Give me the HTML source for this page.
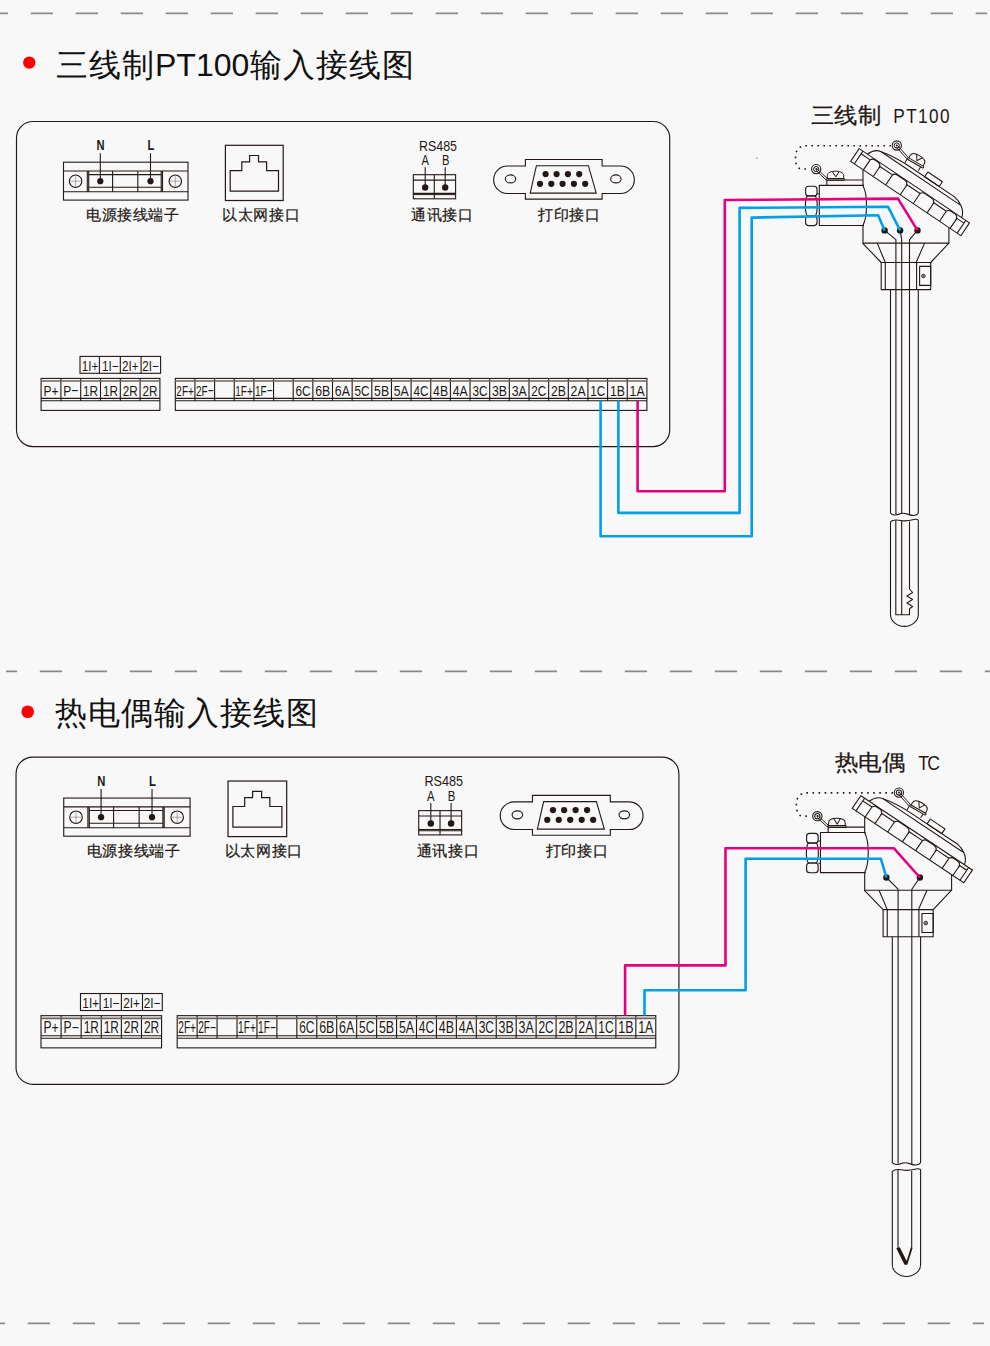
<!DOCTYPE html>
<html><head><meta charset="utf-8"><style>
html,body{margin:0;padding:0;background:#f8f8f8;}
svg{display:block;}
text{font-family:'Liberation Sans', sans-serif;}
</style></head><body>
<svg width="990" height="1346" viewBox="0 0 990 1346" font-family="'Liberation Sans', sans-serif"><rect width="990" height="1346" fill="#f8f8f8"/><line x1="-14.3" y1="13.3" x2="987" y2="13.3" stroke="#8a8a8a" stroke-width="1.7" stroke-dasharray="22.3 22.7"/><svg x="6" y="0" width="984" height="1346" overflow="hidden"><line x1="-11.2" y1="671.3" x2="990" y2="671.3" stroke="#8a8a8a" stroke-width="1.7" stroke-dasharray="22.3 22.7"/></svg><line x1="-17.3" y1="1323.3" x2="984" y2="1323.3" stroke="#8a8a8a" stroke-width="1.7" stroke-dasharray="22.3 22.7"/><circle cx="756.8" cy="158.2" r="0.8" fill="#8a8a8a"/><circle cx="29.3" cy="62.6" r="6.2" fill="#ff0000"/><text y="76" font-size="32" fill="#111"><tspan x="56" letter-spacing="1">三线制</tspan><tspan x="155">PT100</tspan><tspan x="250" letter-spacing="1">输入接线图</tspan></text><circle cx="27.7" cy="711.7" r="6.3" fill="#ff0000"/><text x="54.5" y="724" font-size="32" fill="#111" letter-spacing="1">热电偶输入接线图</text><text x="811" y="122.5" font-size="22" fill="#231815" stroke="#231815" stroke-width="0.25" textLength="70" lengthAdjust="spacingAndGlyphs">三线制</text><g transform="translate(893.3 0) scale(0.86 1)"><text x="0" y="123.3" font-size="20" fill="#231815" textLength="65.5" lengthAdjust="spacing">PT100</text></g><text x="834.5" y="769.5" font-size="22" fill="#231815" stroke="#231815" stroke-width="0.25" textLength="70.5" lengthAdjust="spacingAndGlyphs">热电偶</text><g transform="translate(918.3 0) scale(0.86 1)"><text x="0" y="770.3" font-size="20.5" fill="#231815" textLength="25.3" lengthAdjust="spacing">TC</text></g><rect x="16.5" y="121.5" width="653.2" height="325.1" rx="16.5" ry="16.5" fill="none" stroke="#231815" stroke-width="1.15"/><g fill="none" stroke="#231815" stroke-width="1.1"><rect x="63.5" y="162.2" width="124.5" height="37.9"/><path d="M63.5,171 H188 M63.5,191.7 H188 M87.3,171 V191.7 M162.5,171 V191.7 M88.7,174.6 H161.2 M88.7,187.3 H161.2 M88.7,171 V191.7 M161.2,171 V191.7 M112.6,171 V191.7 M137.8,171 V191.7"/><circle cx="75.6" cy="181.2" r="6.2"/><path d="M70.6,181.2 H80.6 M75.6,176.2 V186.2" stroke-width="0.6" stroke="#777"/><circle cx="175.3" cy="181.2" r="6.2"/><path d="M170.3,181.2 H180.3 M175.3,176.2 V186.2" stroke-width="0.6" stroke="#777"/><path d="M100.3,153.3 V181 M150.5,153.3 V181"/></g><circle cx="100.3" cy="181.2" r="3.1" fill="#231815"/><circle cx="150.5" cy="181.2" r="3.1" fill="#231815"/><text x="100.6" y="149.8" font-size="15" font-weight="bold" text-anchor="middle" transform="translate(100.6 0) scale(0.74 1) translate(-100.6 0)" fill="#231815">N</text><text x="150.8" y="149.8" font-size="15" font-weight="bold" text-anchor="middle" transform="translate(150.8 0) scale(0.74 1) translate(-150.8 0)" fill="#231815">L</text><g fill="none" stroke="#231815" stroke-width="1.2"><rect x="225.4" y="145.3" width="57.8" height="55.2"/><path d="M230.2,191.1 V170.6 H241.8 V161.8 H249.6 V155.5 H258.5 V161.8 H266.6 V170.6 H278.5 V191.1 Z"/></g><text x="419" y="150.6" font-size="14" fill="#231815" textLength="38" lengthAdjust="spacingAndGlyphs">RS485</text><text x="425.2" y="164.7" font-size="14" text-anchor="middle" fill="#231815" transform="translate(425.2 0) scale(0.8 1) translate(-425.2 0)">A</text><text x="445.7" y="164.7" font-size="14" text-anchor="middle" fill="#231815" transform="translate(445.7 0) scale(0.8 1) translate(-445.7 0)">B</text><g fill="none" stroke="#231815" stroke-width="1.1"><rect x="413.3" y="174.7" width="42.3" height="24.1"/><path d="M434.3,174.7 V198.8 M413.3,180.1 H455.6 M413.3,193.4 H455.6 M425.2,167.2 V187.5 M445.2,167.2 V187.5"/></g><path d="M413.3,194.6 H455.6" stroke="#231815" stroke-width="1"/><circle cx="425.2" cy="187.5" r="3.2" fill="#231815"/><circle cx="445.2" cy="187.5" r="3.2" fill="#231815"/><g fill="none" stroke="#231815" stroke-width="1.1"><path d="M507.4,166 H525.4 V159.5 H602.1 V166 H620.6 A13.75,13.75 0 0 1 620.6,193.5 H602.1 V199.1 H525.4 V193.5 H507.4 A13.75,13.75 0 0 1 507.4,166 Z"/><path d="M536.4,165.7 H588.4 L596.2,193.1 H530.2 Z"/><ellipse cx="510.5" cy="178.9" rx="5.2" ry="4"/><ellipse cx="615.9" cy="178.9" rx="5.2" ry="4"/></g><circle cx="545.6" cy="174.1" r="3.1" fill="#231815"/><circle cx="556.6" cy="174.1" r="3.1" fill="#231815"/><circle cx="567.9" cy="174.1" r="3.1" fill="#231815"/><circle cx="579.2" cy="174.1" r="3.1" fill="#231815"/><circle cx="540" cy="183.8" r="3.1" fill="#231815"/><circle cx="551.3" cy="183.8" r="3.1" fill="#231815"/><circle cx="562.6" cy="183.8" r="3.1" fill="#231815"/><circle cx="573.9" cy="183.8" r="3.1" fill="#231815"/><circle cx="585.2" cy="183.8" r="3.1" fill="#231815"/><text x="86" y="220" font-size="15" fill="#231815" stroke="#231815" stroke-width="0.22" letter-spacing="0.6">电源接线端子</text><text x="222.2" y="220" font-size="15" fill="#231815" stroke="#231815" stroke-width="0.22" letter-spacing="0.6">以太网接口</text><text x="411.3" y="220" font-size="15" fill="#231815" stroke="#231815" stroke-width="0.22" letter-spacing="0.6">通讯接口</text><text x="538.3" y="220" font-size="15" fill="#231815" stroke="#231815" stroke-width="0.22" letter-spacing="0.6">打印接口</text><g fill="none" stroke="#231815" stroke-width="1.1"><rect x="41.1" y="378.4" width="118.8" height="32"/><path d="M41.1,398.4 H159.9 M41.1,400.8 H159.9 M60.9,378.4 V400.8 M80.7,378.4 V400.8 M100.5,378.4 V400.8 M120.3,378.4 V400.8 M140.1,378.4 V400.8"/><path d="M41.1,381.1 H159.9" stroke-width="1.5" stroke="#6b6360"/></g><text x="51" y="395.6" font-size="15.5" text-anchor="middle" fill="#231815" textLength="15.0" lengthAdjust="spacingAndGlyphs">P+</text><text x="70.8" y="395.6" font-size="15.5" text-anchor="middle" fill="#231815" textLength="15.0" lengthAdjust="spacingAndGlyphs">P−</text><text x="90.6" y="395.6" font-size="15.5" text-anchor="middle" fill="#231815" textLength="15.0" lengthAdjust="spacingAndGlyphs">1R</text><text x="110.4" y="395.6" font-size="15.5" text-anchor="middle" fill="#231815" textLength="15.0" lengthAdjust="spacingAndGlyphs">1R</text><text x="130.2" y="395.6" font-size="15.5" text-anchor="middle" fill="#231815" textLength="15.0" lengthAdjust="spacingAndGlyphs">2R</text><text x="150" y="395.6" font-size="15.5" text-anchor="middle" fill="#231815" textLength="15.0" lengthAdjust="spacingAndGlyphs">2R</text><g fill="none" stroke="#231815" stroke-width="1.1"><rect x="175.3" y="378.4" width="471.6" height="32"/><path d="M175.3,398.4 H646.9 M175.3,400.8 H646.9 M194.95,378.4 V400.8 M214.6,378.4 V400.8 M234.25,378.4 V400.8 M253.9,378.4 V400.8 M273.55,378.4 V400.8 M293.2,378.4 V400.8 M312.85,378.4 V400.8 M332.5,378.4 V400.8 M352.15,378.4 V400.8 M371.8,378.4 V400.8 M391.45,378.4 V400.8 M411.1,378.4 V400.8 M430.75,378.4 V400.8 M450.4,378.4 V400.8 M470.05,378.4 V400.8 M489.7,378.4 V400.8 M509.35,378.4 V400.8 M529,378.4 V400.8 M548.65,378.4 V400.8 M568.3,378.4 V400.8 M587.95,378.4 V400.8 M607.6,378.4 V400.8 M627.25,378.4 V400.8"/><path d="M175.3,381.1 H646.9" stroke-width="1.5" stroke="#6b6360"/></g><text x="185.12" y="395.6" font-size="15.5" text-anchor="middle" fill="#231815" textLength="17.5" lengthAdjust="spacingAndGlyphs">2F+</text><text x="204.78" y="395.6" font-size="15.5" text-anchor="middle" fill="#231815" textLength="17.5" lengthAdjust="spacingAndGlyphs">2F−</text><text x="244.07" y="395.6" font-size="15.5" text-anchor="middle" fill="#231815" textLength="17.5" lengthAdjust="spacingAndGlyphs">1F+</text><text x="263.73" y="395.6" font-size="15.5" text-anchor="middle" fill="#231815" textLength="17.5" lengthAdjust="spacingAndGlyphs">1F−</text><text x="303.02" y="395.6" font-size="15.5" text-anchor="middle" fill="#231815" textLength="15.0" lengthAdjust="spacingAndGlyphs">6C</text><text x="322.68" y="395.6" font-size="15.5" text-anchor="middle" fill="#231815" textLength="15.0" lengthAdjust="spacingAndGlyphs">6B</text><text x="342.32" y="395.6" font-size="15.5" text-anchor="middle" fill="#231815" textLength="15.0" lengthAdjust="spacingAndGlyphs">6A</text><text x="361.97" y="395.6" font-size="15.5" text-anchor="middle" fill="#231815" textLength="15.0" lengthAdjust="spacingAndGlyphs">5C</text><text x="381.62" y="395.6" font-size="15.5" text-anchor="middle" fill="#231815" textLength="15.0" lengthAdjust="spacingAndGlyphs">5B</text><text x="401.27" y="395.6" font-size="15.5" text-anchor="middle" fill="#231815" textLength="15.0" lengthAdjust="spacingAndGlyphs">5A</text><text x="420.93" y="395.6" font-size="15.5" text-anchor="middle" fill="#231815" textLength="15.0" lengthAdjust="spacingAndGlyphs">4C</text><text x="440.57" y="395.6" font-size="15.5" text-anchor="middle" fill="#231815" textLength="15.0" lengthAdjust="spacingAndGlyphs">4B</text><text x="460.22" y="395.6" font-size="15.5" text-anchor="middle" fill="#231815" textLength="15.0" lengthAdjust="spacingAndGlyphs">4A</text><text x="479.88" y="395.6" font-size="15.5" text-anchor="middle" fill="#231815" textLength="15.0" lengthAdjust="spacingAndGlyphs">3C</text><text x="499.52" y="395.6" font-size="15.5" text-anchor="middle" fill="#231815" textLength="15.0" lengthAdjust="spacingAndGlyphs">3B</text><text x="519.17" y="395.6" font-size="15.5" text-anchor="middle" fill="#231815" textLength="15.0" lengthAdjust="spacingAndGlyphs">3A</text><text x="538.83" y="395.6" font-size="15.5" text-anchor="middle" fill="#231815" textLength="15.0" lengthAdjust="spacingAndGlyphs">2C</text><text x="558.48" y="395.6" font-size="15.5" text-anchor="middle" fill="#231815" textLength="15.0" lengthAdjust="spacingAndGlyphs">2B</text><text x="578.12" y="395.6" font-size="15.5" text-anchor="middle" fill="#231815" textLength="15.0" lengthAdjust="spacingAndGlyphs">2A</text><text x="597.78" y="395.6" font-size="15.5" text-anchor="middle" fill="#231815" textLength="15.0" lengthAdjust="spacingAndGlyphs">1C</text><text x="617.42" y="395.6" font-size="15.5" text-anchor="middle" fill="#231815" textLength="15.0" lengthAdjust="spacingAndGlyphs">1B</text><text x="637.08" y="395.6" font-size="15.5" text-anchor="middle" fill="#231815" textLength="15.0" lengthAdjust="spacingAndGlyphs">1A</text><g fill="none" stroke="#231815" stroke-width="1.1"><rect x="80" y="356.4" width="80.6" height="16.9"/><path d="M99.4,356.4 V373.3 M120.3,356.4 V373.3 M141.1,356.4 V373.3"/></g><text x="90.07" y="370.7" font-size="13.8" text-anchor="middle" fill="#231815" textLength="16.5" lengthAdjust="spacingAndGlyphs">1I+</text><text x="110.22" y="370.7" font-size="13.8" text-anchor="middle" fill="#231815" textLength="16.5" lengthAdjust="spacingAndGlyphs">1I−</text><text x="130.37" y="370.7" font-size="13.8" text-anchor="middle" fill="#231815" textLength="16.5" lengthAdjust="spacingAndGlyphs">2I+</text><text x="150.52" y="370.7" font-size="13.8" text-anchor="middle" fill="#231815" textLength="16.5" lengthAdjust="spacingAndGlyphs">2I−</text><g transform="matrix(1.0148,0,0,1.0065,-0.7,634.8)"><rect x="16.5" y="121.5" width="653.2" height="325.1" rx="16.5" ry="16.5" fill="none" stroke="#231815" stroke-width="1.15"/><g fill="none" stroke="#231815" stroke-width="1.1"><rect x="63.5" y="162.2" width="124.5" height="37.9"/><path d="M63.5,171 H188 M63.5,191.7 H188 M87.3,171 V191.7 M162.5,171 V191.7 M88.7,174.6 H161.2 M88.7,187.3 H161.2 M88.7,171 V191.7 M161.2,171 V191.7 M112.6,171 V191.7 M137.8,171 V191.7"/><circle cx="75.6" cy="181.2" r="6.2"/><path d="M70.6,181.2 H80.6 M75.6,176.2 V186.2" stroke-width="0.6" stroke="#777"/><circle cx="175.3" cy="181.2" r="6.2"/><path d="M170.3,181.2 H180.3 M175.3,176.2 V186.2" stroke-width="0.6" stroke="#777"/><path d="M100.3,153.3 V181 M150.5,153.3 V181"/></g><circle cx="100.3" cy="181.2" r="3.1" fill="#231815"/><circle cx="150.5" cy="181.2" r="3.1" fill="#231815"/><text x="100.6" y="149.8" font-size="15" font-weight="bold" text-anchor="middle" transform="translate(100.6 0) scale(0.74 1) translate(-100.6 0)" fill="#231815">N</text><text x="150.8" y="149.8" font-size="15" font-weight="bold" text-anchor="middle" transform="translate(150.8 0) scale(0.74 1) translate(-150.8 0)" fill="#231815">L</text><g fill="none" stroke="#231815" stroke-width="1.2"><rect x="225.4" y="145.3" width="57.8" height="55.2"/><path d="M230.2,191.1 V170.6 H241.8 V161.8 H249.6 V155.5 H258.5 V161.8 H266.6 V170.6 H278.5 V191.1 Z"/></g><text x="419" y="150.6" font-size="14" fill="#231815" textLength="38" lengthAdjust="spacingAndGlyphs">RS485</text><text x="425.2" y="164.7" font-size="14" text-anchor="middle" fill="#231815" transform="translate(425.2 0) scale(0.8 1) translate(-425.2 0)">A</text><text x="445.7" y="164.7" font-size="14" text-anchor="middle" fill="#231815" transform="translate(445.7 0) scale(0.8 1) translate(-445.7 0)">B</text><g fill="none" stroke="#231815" stroke-width="1.1"><rect x="413.3" y="174.7" width="42.3" height="24.1"/><path d="M434.3,174.7 V198.8 M413.3,180.1 H455.6 M413.3,193.4 H455.6 M425.2,167.2 V187.5 M445.2,167.2 V187.5"/></g><path d="M413.3,194.6 H455.6" stroke="#231815" stroke-width="1"/><circle cx="425.2" cy="187.5" r="3.2" fill="#231815"/><circle cx="445.2" cy="187.5" r="3.2" fill="#231815"/><g fill="none" stroke="#231815" stroke-width="1.1"><path d="M507.4,166 H525.4 V159.5 H602.1 V166 H620.6 A13.75,13.75 0 0 1 620.6,193.5 H602.1 V199.1 H525.4 V193.5 H507.4 A13.75,13.75 0 0 1 507.4,166 Z"/><path d="M536.4,165.7 H588.4 L596.2,193.1 H530.2 Z"/><ellipse cx="510.5" cy="178.9" rx="5.2" ry="4"/><ellipse cx="615.9" cy="178.9" rx="5.2" ry="4"/></g><circle cx="545.6" cy="174.1" r="3.1" fill="#231815"/><circle cx="556.6" cy="174.1" r="3.1" fill="#231815"/><circle cx="567.9" cy="174.1" r="3.1" fill="#231815"/><circle cx="579.2" cy="174.1" r="3.1" fill="#231815"/><circle cx="540" cy="183.8" r="3.1" fill="#231815"/><circle cx="551.3" cy="183.8" r="3.1" fill="#231815"/><circle cx="562.6" cy="183.8" r="3.1" fill="#231815"/><circle cx="573.9" cy="183.8" r="3.1" fill="#231815"/><circle cx="585.2" cy="183.8" r="3.1" fill="#231815"/><text x="86" y="220" font-size="15" fill="#231815" stroke="#231815" stroke-width="0.22" letter-spacing="0.6">电源接线端子</text><text x="222.2" y="220" font-size="15" fill="#231815" stroke="#231815" stroke-width="0.22" letter-spacing="0.6">以太网接口</text><text x="411.3" y="220" font-size="15" fill="#231815" stroke="#231815" stroke-width="0.22" letter-spacing="0.6">通讯接口</text><text x="538.3" y="220" font-size="15" fill="#231815" stroke="#231815" stroke-width="0.22" letter-spacing="0.6">打印接口</text><g fill="none" stroke="#231815" stroke-width="1.1"><rect x="41.1" y="378.4" width="118.8" height="32"/><path d="M41.1,398.4 H159.9 M41.1,400.8 H159.9 M60.9,378.4 V400.8 M80.7,378.4 V400.8 M100.5,378.4 V400.8 M120.3,378.4 V400.8 M140.1,378.4 V400.8"/><path d="M41.1,381.1 H159.9" stroke-width="1.5" stroke="#6b6360"/></g><text x="51" y="395.6" font-size="15.5" text-anchor="middle" fill="#231815" textLength="15.0" lengthAdjust="spacingAndGlyphs">P+</text><text x="70.8" y="395.6" font-size="15.5" text-anchor="middle" fill="#231815" textLength="15.0" lengthAdjust="spacingAndGlyphs">P−</text><text x="90.6" y="395.6" font-size="15.5" text-anchor="middle" fill="#231815" textLength="15.0" lengthAdjust="spacingAndGlyphs">1R</text><text x="110.4" y="395.6" font-size="15.5" text-anchor="middle" fill="#231815" textLength="15.0" lengthAdjust="spacingAndGlyphs">1R</text><text x="130.2" y="395.6" font-size="15.5" text-anchor="middle" fill="#231815" textLength="15.0" lengthAdjust="spacingAndGlyphs">2R</text><text x="150" y="395.6" font-size="15.5" text-anchor="middle" fill="#231815" textLength="15.0" lengthAdjust="spacingAndGlyphs">2R</text><g fill="none" stroke="#231815" stroke-width="1.1"><rect x="175.3" y="378.4" width="471.6" height="32"/><path d="M175.3,398.4 H646.9 M175.3,400.8 H646.9 M194.95,378.4 V400.8 M214.6,378.4 V400.8 M234.25,378.4 V400.8 M253.9,378.4 V400.8 M273.55,378.4 V400.8 M293.2,378.4 V400.8 M312.85,378.4 V400.8 M332.5,378.4 V400.8 M352.15,378.4 V400.8 M371.8,378.4 V400.8 M391.45,378.4 V400.8 M411.1,378.4 V400.8 M430.75,378.4 V400.8 M450.4,378.4 V400.8 M470.05,378.4 V400.8 M489.7,378.4 V400.8 M509.35,378.4 V400.8 M529,378.4 V400.8 M548.65,378.4 V400.8 M568.3,378.4 V400.8 M587.95,378.4 V400.8 M607.6,378.4 V400.8 M627.25,378.4 V400.8"/><path d="M175.3,381.1 H646.9" stroke-width="1.5" stroke="#6b6360"/></g><text x="185.12" y="395.6" font-size="15.5" text-anchor="middle" fill="#231815" textLength="17.5" lengthAdjust="spacingAndGlyphs">2F+</text><text x="204.78" y="395.6" font-size="15.5" text-anchor="middle" fill="#231815" textLength="17.5" lengthAdjust="spacingAndGlyphs">2F−</text><text x="244.07" y="395.6" font-size="15.5" text-anchor="middle" fill="#231815" textLength="17.5" lengthAdjust="spacingAndGlyphs">1F+</text><text x="263.73" y="395.6" font-size="15.5" text-anchor="middle" fill="#231815" textLength="17.5" lengthAdjust="spacingAndGlyphs">1F−</text><text x="303.02" y="395.6" font-size="15.5" text-anchor="middle" fill="#231815" textLength="15.0" lengthAdjust="spacingAndGlyphs">6C</text><text x="322.68" y="395.6" font-size="15.5" text-anchor="middle" fill="#231815" textLength="15.0" lengthAdjust="spacingAndGlyphs">6B</text><text x="342.32" y="395.6" font-size="15.5" text-anchor="middle" fill="#231815" textLength="15.0" lengthAdjust="spacingAndGlyphs">6A</text><text x="361.97" y="395.6" font-size="15.5" text-anchor="middle" fill="#231815" textLength="15.0" lengthAdjust="spacingAndGlyphs">5C</text><text x="381.62" y="395.6" font-size="15.5" text-anchor="middle" fill="#231815" textLength="15.0" lengthAdjust="spacingAndGlyphs">5B</text><text x="401.27" y="395.6" font-size="15.5" text-anchor="middle" fill="#231815" textLength="15.0" lengthAdjust="spacingAndGlyphs">5A</text><text x="420.93" y="395.6" font-size="15.5" text-anchor="middle" fill="#231815" textLength="15.0" lengthAdjust="spacingAndGlyphs">4C</text><text x="440.57" y="395.6" font-size="15.5" text-anchor="middle" fill="#231815" textLength="15.0" lengthAdjust="spacingAndGlyphs">4B</text><text x="460.22" y="395.6" font-size="15.5" text-anchor="middle" fill="#231815" textLength="15.0" lengthAdjust="spacingAndGlyphs">4A</text><text x="479.88" y="395.6" font-size="15.5" text-anchor="middle" fill="#231815" textLength="15.0" lengthAdjust="spacingAndGlyphs">3C</text><text x="499.52" y="395.6" font-size="15.5" text-anchor="middle" fill="#231815" textLength="15.0" lengthAdjust="spacingAndGlyphs">3B</text><text x="519.17" y="395.6" font-size="15.5" text-anchor="middle" fill="#231815" textLength="15.0" lengthAdjust="spacingAndGlyphs">3A</text><text x="538.83" y="395.6" font-size="15.5" text-anchor="middle" fill="#231815" textLength="15.0" lengthAdjust="spacingAndGlyphs">2C</text><text x="558.48" y="395.6" font-size="15.5" text-anchor="middle" fill="#231815" textLength="15.0" lengthAdjust="spacingAndGlyphs">2B</text><text x="578.12" y="395.6" font-size="15.5" text-anchor="middle" fill="#231815" textLength="15.0" lengthAdjust="spacingAndGlyphs">2A</text><text x="597.78" y="395.6" font-size="15.5" text-anchor="middle" fill="#231815" textLength="15.0" lengthAdjust="spacingAndGlyphs">1C</text><text x="617.42" y="395.6" font-size="15.5" text-anchor="middle" fill="#231815" textLength="15.0" lengthAdjust="spacingAndGlyphs">1B</text><text x="637.08" y="395.6" font-size="15.5" text-anchor="middle" fill="#231815" textLength="15.0" lengthAdjust="spacingAndGlyphs">1A</text><g fill="none" stroke="#231815" stroke-width="1.1"><rect x="80" y="356.4" width="80.6" height="16.9"/><path d="M99.4,356.4 V373.3 M120.3,356.4 V373.3 M141.1,356.4 V373.3"/></g><text x="90.07" y="370.7" font-size="13.8" text-anchor="middle" fill="#231815" textLength="16.5" lengthAdjust="spacingAndGlyphs">1I+</text><text x="110.22" y="370.7" font-size="13.8" text-anchor="middle" fill="#231815" textLength="16.5" lengthAdjust="spacingAndGlyphs">1I−</text><text x="130.37" y="370.7" font-size="13.8" text-anchor="middle" fill="#231815" textLength="16.5" lengthAdjust="spacingAndGlyphs">2I+</text><text x="150.52" y="370.7" font-size="13.8" text-anchor="middle" fill="#231815" textLength="16.5" lengthAdjust="spacingAndGlyphs">2I−</text></g><g fill="none" stroke="#231815" stroke-width="1.1" stroke-linejoin="round"><rect x="805.6" y="186.3" width="11.4" height="9.7" rx="3" ry="3"/><rect x="805.6" y="215.9" width="11.4" height="9.7" rx="3" ry="3"/><path d="M807.2,195.9 H815.4 C817.8,200 817.8,212 815.4,215.9 H807.2 C804.8,212 804.8,200 807.2,195.9 Z"/><path d="M817.2,193.8 H819.3 M817.2,216.2 H819.3" stroke-width="1"/><path d="M864,185.4 H819.3 V225.5 H864"/><path d="M826.9,185.4 V180 H863"/><path d="M863,169.8 V186 C867.6,194 867.8,216 863,225.3 V243.1 H948.9 V227.5"/><path d="M862.5,243.1 L881.2,262.5 M948.9,243.1 L930.7,262.5 M877.2,243.1 L885.3,262.5 M924.6,243.1 L916.1,262.5"/><rect x="881.2" y="262.5" width="49.5" height="27.1"/><path d="M885.3,262.5 V289.6 M916.6,262.5 V289.6"/><rect x="919.6" y="266.4" width="11.1" height="19"/><circle cx="923.4" cy="276" r="1.8" stroke-width="0.8"/><path d="M921.4,276 H925.4 M923.4,274 V278" stroke-width="0.6"/><circle cx="816.2" cy="169.1" r="4.6" stroke-width="1.1"/><circle cx="816.2" cy="169.1" r="2.6" stroke-width="1"/><path d="M817.2,169 L827.4,178.6 M816,170.4 L826.2,180" stroke-width="0.95"/><path d="M806,169 H802 C797,169 795.5,164 795.5,157.5 C795.5,150 799,145.8 806,145.8 H891" stroke-width="1.6" stroke-dasharray="1.6 4.4" stroke-linecap="butt"/><circle cx="896.8" cy="145.5" r="4.6" stroke-width="1.1"/><circle cx="896.8" cy="145.5" r="2.6" stroke-width="1"/></g><circle cx="816.3" cy="168.9" r="1" fill="#231815"/><circle cx="896.8" cy="145.5" r="1" fill="#231815"/><g transform="translate(826.4 180.3)"><rect x="0" y="-1.8" width="18.4" height="1.8" rx="0.9" fill="none" stroke="#231815" stroke-width="1"/><path d="M0.9,-1.8 V-4.5 C0.9,-8 5,-9.1 9,-9.1 C13,-9.1 17.3,-8 17.3,-4.5 V-1.8" fill="none" stroke="#231815" stroke-width="1"/><path d="M5.9,-8.8 L9.4,-3.4 L12.7,-8.8" fill="none" stroke="#231815" stroke-width="1"/></g><g transform="translate(859.2 148.6) rotate(34)" fill="none" stroke="#231815" stroke-width="1.1" stroke-linejoin="round"><rect x="0" y="0" width="133" height="15.3"/><path d="M4.5,0 V15.3 M128.5,0 V15.3"/><path d=" M15.4,3.2 V15.3 M27.2,3.2 V15.3 M42.3,3.2 V15.3 M59.8,3.2 V15.3 M75.6,3.2 V15.3 M92.2,3.2 V15.3 M107.2,3.2 V15.3 M120,3.2 V15.3"/><path d=" M4.5,3.2 H15.4 M15.4,3.2 C16.4,1 17.4,0.6 19.4,0.6 H22.2 C25.7,0.6 27.2,2.5 27.2,5 M27.2,3.2 H42.3 M42.3,3.2 C43.3,1 44.3,0.6 46.3,0.6 H54.8 C58.3,0.6 59.8,2.5 59.8,5 M59.8,3.2 H75.6 M75.6,3.2 C76.6,1 77.6,0.6 79.6,0.6 H87.2 C90.7,0.6 92.2,2.5 92.2,5 M92.2,3.2 H107.2 M107.2,3.2 C108.2,1 109.2,0.6 111.2,0.6 H115 C118.5,0.6 120,2.5 120,5 M120,3.2 H128.5"/><path d="M10,0 C12,-6 15,-9 20,-9.7 C27,-11.5 35,-13 50,-13.3 L106,-13.3 C113,-12.5 122,-8 123.5,0"/><path d="M20,-9.7 H115"/><rect x="70" y="-19" width="17.5" height="5.7"/></g><g transform="translate(907.1 159) rotate(30)"><rect x="0" y="-1.8" width="18.4" height="1.8" rx="0.9" fill="none" stroke="#231815" stroke-width="1"/><path d="M0.9,-1.8 V-4.5 C0.9,-8 5,-9.1 9,-9.1 C13,-9.1 17.3,-8 17.3,-4.5 V-1.8" fill="none" stroke="#231815" stroke-width="1"/><path d="M5.9,-8.8 L9.4,-3.4 L12.7,-8.8" fill="none" stroke="#231815" stroke-width="1"/><path d="M0,0 V4.3 M15.6,0 V4.5" fill="none" stroke="#231815" stroke-width="1"/></g><path d="M897.8,145.6 L908.2,157.4 M896.4,147 L906.8,158.8" fill="none" stroke="#231815" stroke-width="0.95"/><g fill="none" stroke="#231815" stroke-width="1.1" stroke-linejoin="round"><path d="M884.6,230.4 L895.9,239.6 V514 M900.1,230.4 L901.7,239.6 V513 M917.5,230.4 L909.5,239.6 V514"/><path d="M890.5,289.6 V513 C892,515.5 896,515.5 901,513.5 C905,512 910,516 914,515.5 C916.5,515 918.3,513.5 918.3,512.5 V289.6"/><path d="M890.5,522 C892,520 896,519.5 901,520.5 C905,521.5 910,520.5 914,519.5 C916.5,519 918.3,519.5 918.3,520.5 V614.4 A13.9,12 0 0 1 890.5,614.4 Z"/><path d="M895.8,520.5 V614.7 H909.5 V608.7 L912.6,606.5 L906.9,603 L912.6,599.5 L906.9,596 L912.6,592.5 L909.5,589 V521.5 M901.7,520.5 V614.7"/></g><g transform="matrix(1.0118,0,0,1,-8.5,647.1)"><g fill="none" stroke="#231815" stroke-width="1.1" stroke-linejoin="round"><rect x="805.6" y="186.3" width="11.4" height="9.7" rx="3" ry="3"/><rect x="805.6" y="215.9" width="11.4" height="9.7" rx="3" ry="3"/><path d="M807.2,195.9 H815.4 C817.8,200 817.8,212 815.4,215.9 H807.2 C804.8,212 804.8,200 807.2,195.9 Z"/><path d="M817.2,193.8 H819.3 M817.2,216.2 H819.3" stroke-width="1"/><path d="M864,185.4 H819.3 V225.5 H864"/><path d="M826.9,185.4 V180 H863"/><path d="M863,169.8 V186 C867.6,194 867.8,216 863,225.3 V243.1 H948.9 V227.5"/><path d="M862.5,243.1 L881.2,262.5 M948.9,243.1 L930.7,262.5 M877.2,243.1 L885.3,262.5 M924.6,243.1 L916.1,262.5"/><rect x="881.2" y="262.5" width="49.5" height="27.1"/><path d="M885.3,262.5 V289.6 M916.6,262.5 V289.6"/><rect x="919.6" y="266.4" width="11.1" height="19"/><circle cx="923.4" cy="276" r="1.8" stroke-width="0.8"/><path d="M921.4,276 H925.4 M923.4,274 V278" stroke-width="0.6"/><circle cx="816.2" cy="169.1" r="4.6" stroke-width="1.1"/><circle cx="816.2" cy="169.1" r="2.6" stroke-width="1"/><path d="M817.2,169 L827.4,178.6 M816,170.4 L826.2,180" stroke-width="0.95"/><path d="M806,169 H802 C797,169 795.5,164 795.5,157.5 C795.5,150 799,145.8 806,145.8 H891" stroke-width="1.6" stroke-dasharray="1.6 4.4" stroke-linecap="butt"/><circle cx="896.8" cy="145.5" r="4.6" stroke-width="1.1"/><circle cx="896.8" cy="145.5" r="2.6" stroke-width="1"/></g><circle cx="816.3" cy="168.9" r="1" fill="#231815"/><circle cx="896.8" cy="145.5" r="1" fill="#231815"/><g transform="translate(826.4 180.3)"><rect x="0" y="-1.8" width="18.4" height="1.8" rx="0.9" fill="none" stroke="#231815" stroke-width="1"/><path d="M0.9,-1.8 V-4.5 C0.9,-8 5,-9.1 9,-9.1 C13,-9.1 17.3,-8 17.3,-4.5 V-1.8" fill="none" stroke="#231815" stroke-width="1"/><path d="M5.9,-8.8 L9.4,-3.4 L12.7,-8.8" fill="none" stroke="#231815" stroke-width="1"/></g><g transform="translate(859.2 148.6) rotate(34)" fill="none" stroke="#231815" stroke-width="1.1" stroke-linejoin="round"><rect x="0" y="0" width="133" height="15.3"/><path d="M4.5,0 V15.3 M128.5,0 V15.3"/><path d=" M15.4,3.2 V15.3 M27.2,3.2 V15.3 M42.3,3.2 V15.3 M59.8,3.2 V15.3 M75.6,3.2 V15.3 M92.2,3.2 V15.3 M107.2,3.2 V15.3 M120,3.2 V15.3"/><path d=" M4.5,3.2 H15.4 M15.4,3.2 C16.4,1 17.4,0.6 19.4,0.6 H22.2 C25.7,0.6 27.2,2.5 27.2,5 M27.2,3.2 H42.3 M42.3,3.2 C43.3,1 44.3,0.6 46.3,0.6 H54.8 C58.3,0.6 59.8,2.5 59.8,5 M59.8,3.2 H75.6 M75.6,3.2 C76.6,1 77.6,0.6 79.6,0.6 H87.2 C90.7,0.6 92.2,2.5 92.2,5 M92.2,3.2 H107.2 M107.2,3.2 C108.2,1 109.2,0.6 111.2,0.6 H115 C118.5,0.6 120,2.5 120,5 M120,3.2 H128.5"/><path d="M10,0 C12,-6 15,-9 20,-9.7 C27,-11.5 35,-13 50,-13.3 L106,-13.3 C113,-12.5 122,-8 123.5,0"/><path d="M20,-9.7 H115"/><rect x="70" y="-19" width="17.5" height="5.7"/></g><g transform="translate(907.1 159) rotate(30)"><rect x="0" y="-1.8" width="18.4" height="1.8" rx="0.9" fill="none" stroke="#231815" stroke-width="1"/><path d="M0.9,-1.8 V-4.5 C0.9,-8 5,-9.1 9,-9.1 C13,-9.1 17.3,-8 17.3,-4.5 V-1.8" fill="none" stroke="#231815" stroke-width="1"/><path d="M5.9,-8.8 L9.4,-3.4 L12.7,-8.8" fill="none" stroke="#231815" stroke-width="1"/><path d="M0,0 V4.3 M15.6,0 V4.5" fill="none" stroke="#231815" stroke-width="1"/></g><path d="M897.8,145.6 L908.2,157.4 M896.4,147 L906.8,158.8" fill="none" stroke="#231815" stroke-width="0.95"/></g><g fill="none" stroke="#231815" stroke-width="1.1" stroke-linejoin="round"><path d="M886.4,877.5 L898.1,889.2 V1163.5 M919.9,877.5 L911.8,889.2 V1164"/><path d="M892.3,936.7 V1162.5 C894,1165 898,1165 903,1163 C907,1161.5 912,1165.5 916,1165 C918.5,1164.5 920.6,1163 920.6,1162 V936.7"/><path d="M892.3,1171.5 C894,1169.5 898,1169 903,1170 C907,1171 912,1170 916,1169 C918.5,1168.5 920.6,1169 920.6,1170 V1264.4 A14.15,12.1 0 0 1 892.3,1264.4 Z"/><path d="M898,1170 V1248 M911.7,1171 V1248"/></g><path d="M896.3,1248.3 L899.8,1247.2 L906.6,1261 L910.8,1247.5 L912.6,1248 L907.3,1264.8 L904.5,1264.8 Z" fill="#231815"/><circle cx="884.6" cy="230.4" r="3.2" fill="#231815"/><circle cx="900.1" cy="230.4" r="3.2" fill="#231815"/><circle cx="917.5" cy="230.4" r="3.2" fill="#231815"/><circle cx="886.4" cy="877.5" r="3.2" fill="#231815"/><circle cx="919.9" cy="877.5" r="3.2" fill="#231815"/><path d="M637.6,400.5 V491.3 H724.8 V200 L898,198.6 L917.5,230.4" stroke="#e4007f" fill="none" stroke-width="2.6" stroke-linejoin="round" stroke-linecap="butt"/><path d="M618.4,400.5 V512.9 H739.6 V207.9 L888.1,206.8 L900.1,230.4" stroke="#00a0e9" fill="none" stroke-width="2.6" stroke-linejoin="round" stroke-linecap="butt"/><path d="M600.6,400.5 V536.2 H751.7 V217.6 L878.2,215.3 L884.6,230.4" stroke="#00a0e9" fill="none" stroke-width="2.6" stroke-linejoin="round" stroke-linecap="butt"/><path d="M625.1,1015.6 V965.4 H725.5 V848.3 H894 L919.9,877.5" stroke="#e4007f" fill="none" stroke-width="2.6" stroke-linejoin="round" stroke-linecap="butt"/><path d="M644.5,1015.6 V990.3 H745.6 V858.8 H880.9 L886.4,877.5" stroke="#00a0e9" fill="none" stroke-width="2.6" stroke-linejoin="round" stroke-linecap="butt"/></svg>
</body></html>
